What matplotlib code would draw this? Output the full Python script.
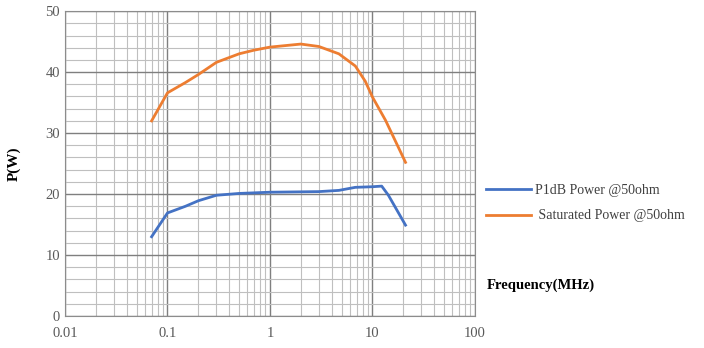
import matplotlib.pyplot as plt
import numpy as np
from matplotlib.ticker import LogLocator, MultipleLocator, FixedLocator, FixedFormatter

plt.rcParams['font.family'] = ['Liberation Serif', 'DejaVu Serif']

# Frequency (MHz) and power (W)
freq_p1db = [0.07, 0.1, 0.15, 0.2, 0.3, 0.5, 1.0, 3.0, 4.7, 6.8, 10.0, 12.3, 14.3, 21.0]
p1db = [13.0, 16.9, 18.0, 18.9, 19.8, 20.1, 20.3, 20.4, 20.6, 21.1, 21.2, 21.3, 19.8, 14.9]

freq_sat = [0.07, 0.1, 0.15, 0.2, 0.3, 0.5, 0.7, 1.0, 2.0, 3.0, 4.7, 6.8, 8.5, 10.0, 13.4, 21.0]
p_sat = [32.0, 36.6, 38.3, 39.6, 41.6, 43.0, 43.6, 44.1, 44.6, 44.2, 43.0, 41.0, 38.5, 35.9, 32.1, 25.2]

x_ticks = [0.01, 0.1, 1, 10, 100]
x_labels = ['0.01', '0.1', '1', '10', '100']

fig = plt.figure(figsize=(7.04, 3.48), dpi=100)
ax = fig.add_axes([0.0923, 0.092, 0.5824, 0.876])

ax.plot(freq_p1db, p1db, color='#4472C4', lw=2, label='P1dB Power @50ohm')
ax.plot(freq_sat, p_sat, color='#ED7D31', lw=2, label=' Saturated Power @50ohm')

ax.set_xscale('log')
ax.set_xlim(0.01, 100)
ax.set_ylim(0, 50)
ax.xaxis.set_major_locator(FixedLocator(x_ticks))
ax.xaxis.set_major_formatter(FixedFormatter(x_labels))
ax.xaxis.set_minor_locator(LogLocator(base=10, subs=np.arange(2, 10)))
ax.yaxis.set_major_locator(MultipleLocator(10))
ax.yaxis.set_minor_locator(MultipleLocator(2))

ax.grid(True, which='major', color='#7f7f7f', lw=1.0)
ax.grid(True, which='minor', color='#bfbfbf', lw=0.8)
ax.tick_params(which='both', length=0, labelsize=10.5, labelcolor='#595959')
ax.tick_params(axis='x', pad=8)
for s in ax.spines.values():
    s.set_color('#8c8c8c')

ax.set_ylabel('P(W)', fontweight='bold', fontsize=11, labelpad=18)
fig.text(0.692, 0.18, 'Frequency(MHz)', fontweight='bold', fontsize=10.5, va='center')

ax.legend(loc='center left', bbox_to_anchor=(1.0, 0.37), frameon=False,
          fontsize=10, handlelength=3.2, handletextpad=0.3, labelspacing=0.9,
          borderaxespad=0.4, labelcolor='#404040')

fig.savefig('out.png', dpi=100)
